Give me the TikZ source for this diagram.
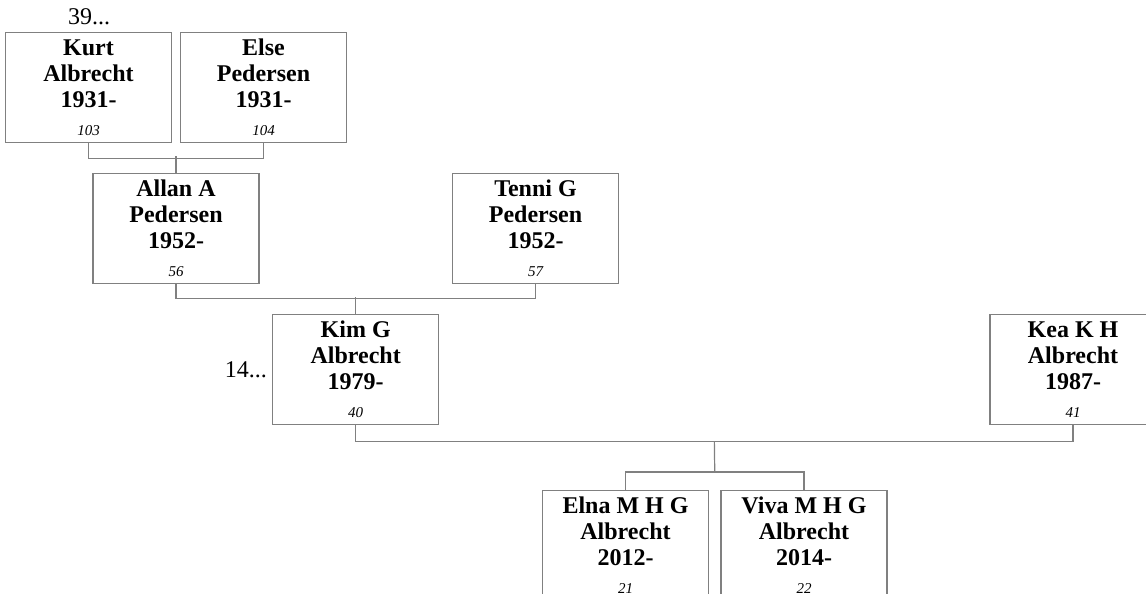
\documentclass[tikz,border=0pt]{standalone}
\usepackage{fontspec}
\setmainfont{Liberation Serif}
\usetikzlibrary{calc}
\definecolor{boxgray}{RGB}{128,128,128}
\tikzset{
  person/.style={draw=boxgray, line width=1.2pt, minimum width=166pt, minimum height=110pt,
    inner sep=0pt, align=center, font=\bfseries\fontsize{24}{26}\selectfont, anchor=north},
  link/.style={draw=boxgray, line width=1.2pt},
  num/.style={font=\fontsize{24}{26}\selectfont, inner sep=0pt}
}
\newcommand{\idn}[1]{\\[2pt]{\mdseries\itshape\fontsize{15}{15}\selectfont #1}}
\begin{document}
\begin{tikzpicture}[x=1pt,y=-1pt]
\clip (0,0) rectangle (1146,594);
\fill[white] (0,0) rectangle (1146,594);
% row 1
\node[person] (kurt) at (88.5,32) {Kurt\\Albrecht\\1931-\idn{103}};
\node[person] (else) at (263.5,32) {Else\\Pedersen\\1931-\idn{104}};
% row 2
\node[person] (allan) at (176,173) {Allan A\\Pedersen\\1952-\idn{56}};
\node[person] (tenni) at (535.5,173) {Tenni G\\Pedersen\\1952-\idn{57}};
% row 3
\node[person] (kim) at (355.7,314) {Kim G\\Albrecht\\1979-\idn{40}};
\node[person] (kea) at (1073,314) {Kea K H\\Albrecht\\1987-\idn{41}};
% row 4
\node[person] (elna) at (625.5,490) {Elna M H G\\Albrecht\\2012-\idn{21}};
\node[person] (viva) at (804,490) {Viva M H G\\Albrecht\\2014-\idn{22}};
% side labels
\node[num, anchor=base] (more1) at (89,25) {39...};
\node[num, anchor=base east] (more2) at (267,377) {14...};
% connectors
\draw[link] (kurt.south) -- ++(0,15) -| (else.south);
\draw[link] (allan.north) -- ++(0,-17);
\draw[link] (allan.south) -- ++(0,14) -| (tenni.south);
\draw[link] (kim.north) -- ++(0,-17);
\draw[link] (kim.south) -- ++(0,16) -| (kea.south);
\coordinate (fork) at ($(kim.south)!0.5!(kea.south) + (0,16)$);
\coordinate (kids) at ($(elna.north)!0.5!(viva.north) + (0,-18)$);
\draw[link] (fork) -- (kids);
\draw[link] (elna.north) |- (kids) -| (viva.north);
\end{tikzpicture}
\end{document}
